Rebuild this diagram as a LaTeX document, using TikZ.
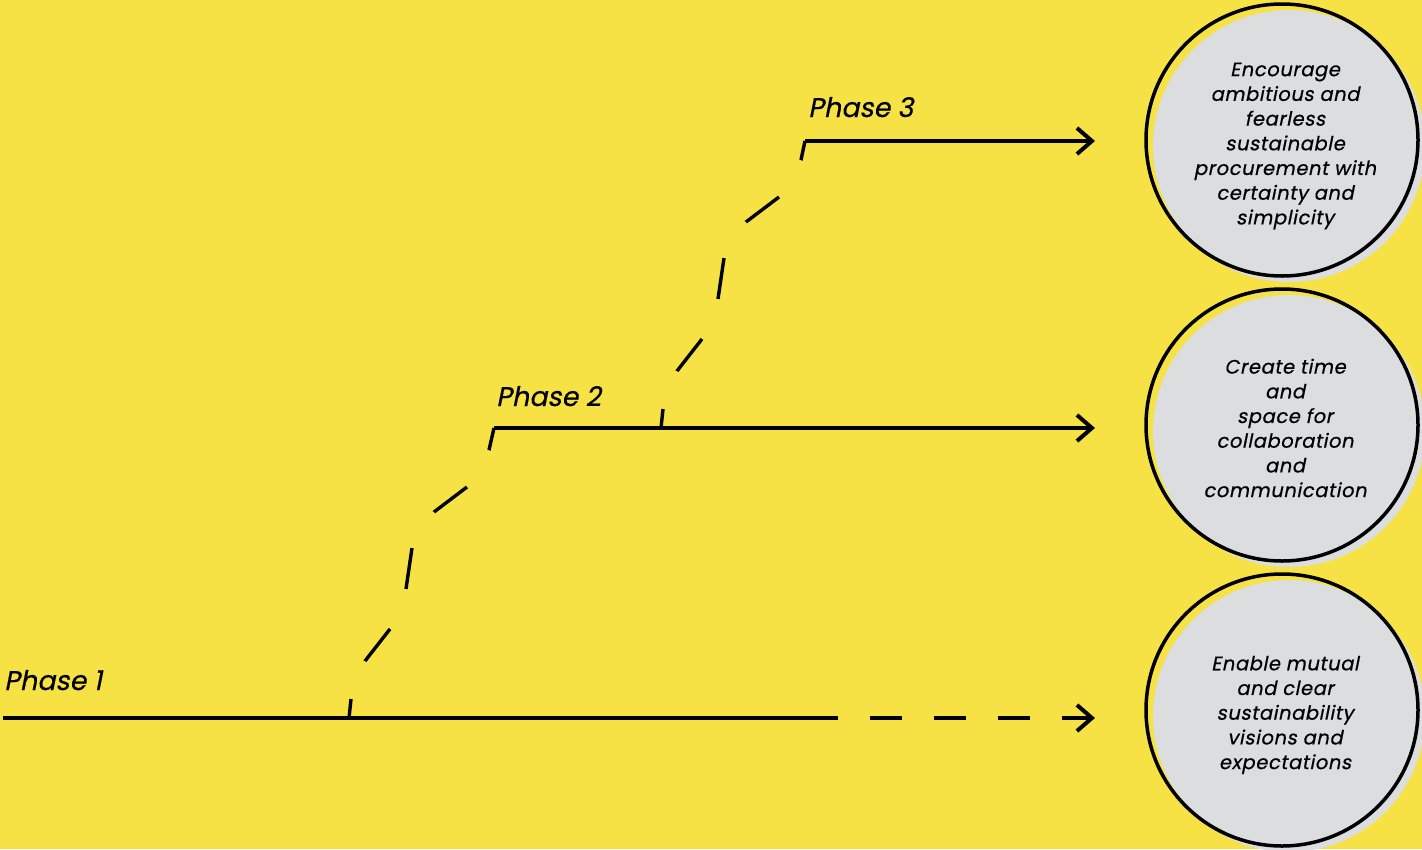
\documentclass[tikz,border=0pt]{standalone}
\usepackage{fontspec}
\setmainfont{Poppins}[FakeSlant=0.2]
\newfontfamily\phasefont{Poppins}[FakeSlant=0.2,FakeBold=0.5]
\newfontfamily\circfont{Poppins}[FakeSlant=0.2,FakeBold=0.6,LetterSpace=3]
\usetikzlibrary{arrows.meta}
\definecolor{bgyellow}{HTML}{F6E244}
\definecolor{discgrey}{HTML}{DCDDDF}
\tikzset{
  mainline/.style={line width=4pt, line cap=butt},
  arrowline/.style={mainline, -{Straight Barb[length=15pt,width=26pt,line cap=butt,line join=miter]}},
  curvedash/.style={line width=3.4pt, line cap=butt, line join=miter,
     dash pattern=on 19.1pt off 40.5pt on 40.6pt off 43.1pt on 41.4pt off 42.2pt on 41.4pt off 43pt on 40pt off 10pt},
  ring/.style={circle, draw=black, line width=3.5pt, minimum size=272pt, inner sep=0pt},
  greydisc/.style={circle, fill=discgrey, minimum size=272pt, inner sep=0pt},
  circtext/.style={align=center, font=\circfont\fontsize{19.5pt}{24.7pt}\selectfont, inner sep=0pt},
  phaselabel/.style={anchor=base west, font=\phasefont\fontsize{27pt}{30pt}\selectfont, inner sep=0pt}
}
\begin{document}
\begin{tikzpicture}[x=1pt,y=-1pt]
\fill[bgyellow] (0,0) rectangle (1422,849);
\useasboundingbox (0,0) rectangle (1422,849);

% circles
\node[greydisc] (g1) at (1289,146) {};
\node[ring] (c1) at (1282,140) {};
\node[circtext] (t1) at (1285,146) {Encourage\\ambitious and\\fearless\\sustainable\\procurement with\\certainty and\\simplicity};

\node[greydisc] (g2) at (1289,431) {};
\node[ring] (c2) at (1282,425) {};
\node[circtext] (t2) at (1285,428) {Create time\\and\\space for\\collaboration\\and\\communication};

\node[greydisc] (g3) at (1289,716) {};
\node[ring] (c3) at (1282,710) {};
\node[circtext] (t3) at (1285,715) {Enable mutual\\and clear\\sustainability\\visions and\\expectations};

% coordinates
\coordinate (p1s) at (3,718);
\coordinate (p1b) at (349,718);
\coordinate (p1m) at (806,718);
\coordinate (p1e) at (1095,718);
\coordinate (p2s) at (494,428);
\coordinate (p2b) at (661,428);
\coordinate (p2e) at (1095,428);
\coordinate (p3s) at (805,141);
\coordinate (p3e) at (1095,141);

% labels
\node[phaselabel] (l1) at (4,690) {Phase 1};
\node[phaselabel] (l2) at (496,406) {Phase 2};
\node[phaselabel] (l3) at (808,117) {Phase 3};

% phase lines
\draw[mainline] (p1s) -- (p1m);
\draw[arrowline, dash pattern=on 32pt off 32pt] (p1m) -- (p1e);
\draw[arrowline] (p2s) -- (p2e);
\draw[arrowline] (p3s) -- (p3e);

% dashed transitions
\draw[curvedash] (p1b) -- (351,699) -- (365,661) -- (390,629) -- (406,589) -- (412,548) -- (434,512) -- (467,487) -- (489,450) -- (p2s);
\draw[curvedash] (p2b) -- (663,409) -- (677,371) -- (702,339) -- (718,299) -- (724,258) -- (746,222) -- (779,197) -- (801,160) -- (p3s);
\end{tikzpicture}
\end{document}
